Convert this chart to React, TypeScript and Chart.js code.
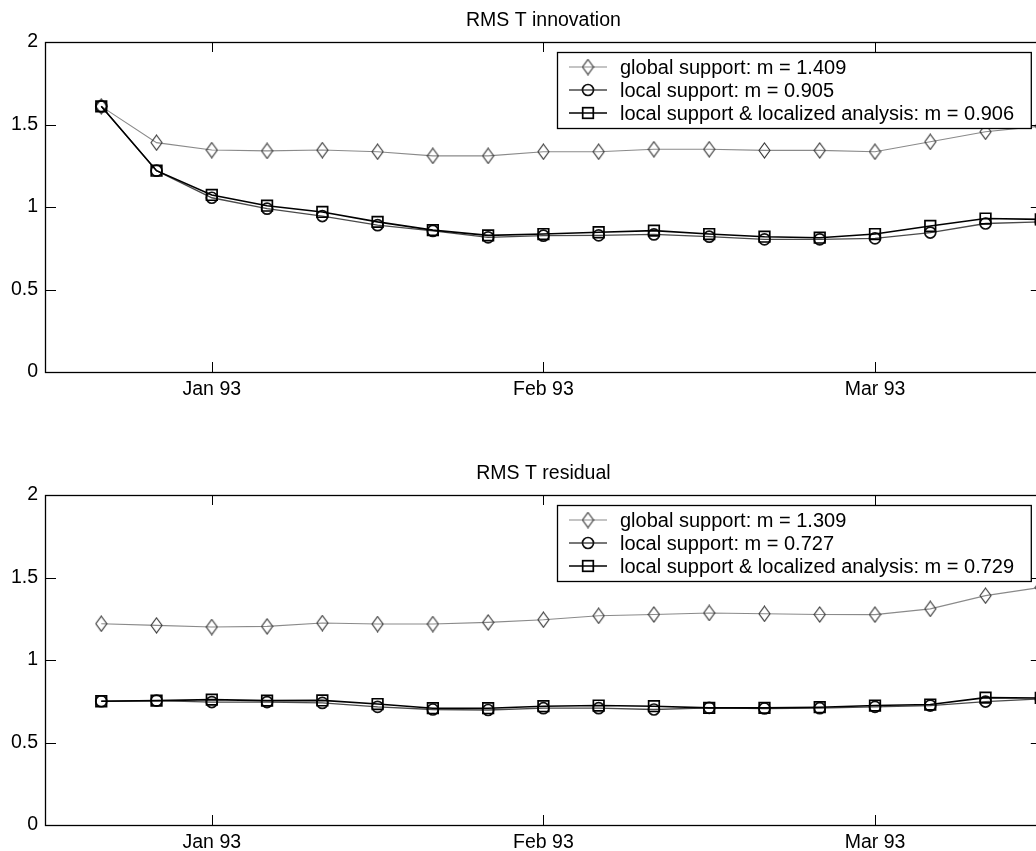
import React, { useEffect, useRef } from 'react';
import { Chart, registerables } from 'chart.js';

Chart.register(...registerables);

// ---------- data ----------
const X_TICK_VALUES = [2, 8, 14];
const X_TICK_LABELS = ['Jan 93', 'Feb 93', 'Mar 93'];
const Y_TICK_VALUES = [0, 0.5, 1, 1.5, 2];

const INNOV_TITLE = 'RMS T innovation';
const INNOV_LABELS = [
  'global support: m = 1.409',
  'local support: m = 0.905',
  'local support & localized analysis: m = 0.906',
];
const innovGlobal = [1.61, 1.39, 1.345, 1.34, 1.345, 1.335, 1.31, 1.31, 1.335, 1.335, 1.35, 1.35, 1.343, 1.343, 1.335, 1.395, 1.456, 1.49];
const innovLocal = [1.61, 1.22, 1.056, 0.99, 0.945, 0.89, 0.855, 0.816, 0.826, 0.828, 0.834, 0.82, 0.804, 0.804, 0.81, 0.845, 0.9, 0.91];
const innovLocalized = [1.61, 1.22, 1.073, 1.008, 0.97, 0.91, 0.86, 0.828, 0.836, 0.847, 0.857, 0.836, 0.82, 0.814, 0.836, 0.885, 0.93, 0.925];

const RESID_TITLE = 'RMS T residual';
const RESID_LABELS = [
  'global support: m = 1.309',
  'local support: m = 0.727',
  'local support & localized analysis: m = 0.729',
];
const residGlobal = [1.22, 1.21, 1.2, 1.204, 1.224, 1.218, 1.218, 1.228, 1.244, 1.268, 1.276, 1.285, 1.28, 1.276, 1.275, 1.31, 1.39, 1.44];
const residLocal = [0.75, 0.754, 0.745, 0.745, 0.74, 0.716, 0.7, 0.697, 0.708, 0.708, 0.7, 0.71, 0.706, 0.708, 0.716, 0.724, 0.748, 0.765];
const residLocalized = [0.75, 0.754, 0.76, 0.754, 0.755, 0.733, 0.708, 0.708, 0.72, 0.724, 0.72, 0.71, 0.71, 0.714, 0.724, 0.73, 0.772, 0.77];

// ---------- styles ----------
const FONT_FAMILY = '"Liberation Sans", Arial, Helvetica, sans-serif';
const TICK_FONT_SIZE = 19.5;
const LEGEND_FONT_SIZE = 20;
const TITLE_FONT_SIZE = 19.5;
const PAD_TOP = 42;
const PLOT_H = 330;
const CANVAS_W = 1050;

const GLOBAL_LINE = '#8a8a8a';
const GLOBAL_MARK = '#333333';
const LOCAL_LINE = '#4a4a4a';
const LOCAL_MARK = '#111111';
const LOCALIZED_LINE = '#000000';

function makeDiamond(): HTMLCanvasElement {
  const c = document.createElement('canvas');
  c.width = 13;
  c.height = 17;
  const g = c.getContext('2d')!;
  g.strokeStyle = GLOBAL_MARK;
  g.lineWidth = 1.1;
  g.beginPath();
  g.moveTo(6.5, 1);
  g.lineTo(12, 8.5);
  g.lineTo(6.5, 16);
  g.lineTo(1, 8.5);
  g.closePath();
  g.stroke();
  return c;
}

function framePlugin(title: string, labels: string[], diamond: HTMLCanvasElement) {
  return {
    id: 'matlabFrame',
    afterDatasetsDraw(chart: any) {
      const ctx: CanvasRenderingContext2D = chart.ctx;
      const { left, right, top, bottom } = chart.chartArea;
      const xs = chart.scales.x;
      const ys = chart.scales.y;
      ctx.save();
      // box
      ctx.strokeStyle = '#000';
      ctx.lineWidth = 1.3;
      ctx.strokeRect(left - 0.5, top + 0.5, right - left, bottom - top);
      // inward ticks
      ctx.lineWidth = 1;
      const TL = 10;
      ctx.beginPath();
      X_TICK_VALUES.forEach((v) => {
        const px = Math.round(xs.getPixelForValue(v)) + 0.5;
        ctx.moveTo(px, bottom);
        ctx.lineTo(px, bottom - TL);
        ctx.moveTo(px, top);
        ctx.lineTo(px, top + TL);
      });
      Y_TICK_VALUES.forEach((v) => {
        const py = Math.round(ys.getPixelForValue(v)) + 0.5;
        ctx.moveTo(left, py);
        ctx.lineTo(left + TL, py);
        ctx.moveTo(right, py);
        ctx.lineTo(right - TL, py);
      });
      ctx.stroke();

      // legend
      ctx.font = `${LEGEND_FONT_SIZE}px ${FONT_FAMILY}`;
      let maxW = 0;
      labels.forEach((l) => {
        maxW = Math.max(maxW, ctx.measureText(l).width);
      });
      const boxW = 63 + maxW + 17;
      const boxRight = right - 10;
      const boxLeft = Math.round(boxRight - boxW);
      const boxTop = top + 10;
      const boxH = 76;
      ctx.fillStyle = '#fff';
      ctx.fillRect(boxLeft, boxTop, boxRight - boxLeft, boxH);
      ctx.strokeStyle = '#000';
      ctx.lineWidth = 1.3;
      ctx.strokeRect(boxLeft + 0.5, boxTop + 0.5, boxRight - boxLeft, boxH);
      chart.data.datasets.forEach((ds: any, k: number) => {
        const y = boxTop + 15 + k * 23;
        const x0 = boxLeft + 12;
        const x1 = boxLeft + 50;
        const cx = boxLeft + 31;
        ctx.strokeStyle = ds.borderColor;
        ctx.lineWidth = ds.borderWidth;
        ctx.beginPath();
        ctx.moveTo(x0, y);
        ctx.lineTo(x1, y);
        ctx.stroke();
        ctx.strokeStyle = ds.pointBorderColor;
        ctx.lineWidth = ds.pointBorderWidth;
        if (k === 0) {
          ctx.drawImage(diamond, cx - diamond.width / 2, y - diamond.height / 2);
        } else if (k === 1) {
          ctx.beginPath();
          ctx.arc(cx, y, ds.pointRadius, 0, Math.PI * 2);
          ctx.stroke();
        } else {
          const s = ds.pointRadius * Math.SQRT1_2;
          ctx.strokeRect(cx - s, y - s, 2 * s, 2 * s);
        }
        ctx.fillStyle = '#000';
        ctx.textBaseline = 'middle';
        ctx.textAlign = 'left';
        ctx.fillText(ds.label, boxLeft + 63, y + 1);
      });
      ctx.restore();
    },
    afterDraw(chart: any) {
      const ctx: CanvasRenderingContext2D = chart.ctx;
      const { left, right, top } = chart.chartArea;
      ctx.save();
      ctx.font = `${TITLE_FONT_SIZE}px ${FONT_FAMILY}`;
      ctx.fillStyle = '#000';
      ctx.textAlign = 'center';
      ctx.textBaseline = 'alphabetic';
      ctx.fillText(title, (left + right) / 2, top - 16.5);
      ctx.restore();
    },
  };
}

function makeConfig(
  title: string,
  labels: string[],
  g: number[],
  l: number[],
  lz: number[],
  canvasH: number,
  diamond: HTMLCanvasElement
): any {
  const pts = (arr: number[]) => arr.map((v, i) => ({ x: i, y: v }));
  const tickFont = { family: FONT_FAMILY, size: TICK_FONT_SIZE };
  return {
    type: 'line',
    data: {
      datasets: [
        {
          label: labels[0],
          data: pts(g),
          borderColor: GLOBAL_LINE,
          borderWidth: 1.1,
          pointStyle: diamond,
          pointRadius: 7,
          pointBorderColor: GLOBAL_MARK,
          pointBorderWidth: 1.1,
          pointBackgroundColor: 'rgba(0,0,0,0)',
          backgroundColor: 'rgba(0,0,0,0)',
          fill: false,
          tension: 0,
          order: 3,
        },
        {
          label: labels[1],
          data: pts(l),
          borderColor: LOCAL_LINE,
          borderWidth: 1.3,
          pointStyle: 'circle',
          pointRadius: 5.5,
          pointBorderColor: LOCAL_MARK,
          pointBorderWidth: 1.7,
          pointBackgroundColor: 'rgba(0,0,0,0)',
          backgroundColor: 'rgba(0,0,0,0)',
          fill: false,
          tension: 0,
          order: 2,
        },
        {
          label: labels[2],
          data: pts(lz),
          borderColor: LOCALIZED_LINE,
          borderWidth: 1.6,
          pointStyle: 'rect',
          pointRadius: 7.5,
          pointBorderColor: '#000',
          pointBorderWidth: 1.7,
          pointBackgroundColor: 'rgba(0,0,0,0)',
          backgroundColor: 'rgba(0,0,0,0)',
          fill: false,
          tension: 0,
          order: 1,
        },
      ],
    },
    options: {
      animation: false,
      responsive: false,
      devicePixelRatio: 1,
      events: [],
      layout: { padding: { top: PAD_TOP, left: 0, right: 5, bottom: 0 } },
      plugins: {
        legend: { display: false },
        title: { display: false },
        tooltip: { enabled: false },
      },
      scales: {
        x: {
          type: 'linear',
          min: -1,
          max: 17,
          afterBuildTicks: (s: any) => {
            s.ticks = X_TICK_VALUES.map((v) => ({ value: v }));
          },
          afterFit: (s: any) => {
            s.height = canvasH - PAD_TOP - PLOT_H;
          },
          ticks: {
            autoSkip: false,
            maxRotation: 0,
            minRotation: 0,
            padding: 6,
            color: '#000',
            font: tickFont,
            callback: (v: number) => {
              const i = X_TICK_VALUES.indexOf(v);
              return i >= 0 ? X_TICK_LABELS[i] : '';
            },
          },
          grid: { display: false, drawTicks: false },
          border: { display: false },
        },
        y: {
          type: 'linear',
          min: 0,
          max: 2,
          afterBuildTicks: (s: any) => {
            s.ticks = Y_TICK_VALUES.map((v) => ({ value: v }));
          },
          afterFit: (s: any) => {
            s.width = 46;
          },
          ticks: {
            padding: 8,
            color: '#000',
            font: tickFont,
            callback: (v: number) => String(v),
          },
          grid: { display: false, drawTicks: false },
          border: { display: false },
        },
      },
    },
    plugins: [framePlugin(title, labels, diamond)],
  };
}

const TOP_H = 420;
const BOTTOM_TOP = 453;
const BOTTOM_H = 398;

export default function App() {
  const topRef = useRef<HTMLCanvasElement>(null);
  const botRef = useRef<HTMLCanvasElement>(null);

  useEffect(() => {
    const diamond = makeDiamond();
    const c1 = new Chart(
      topRef.current!,
      makeConfig(INNOV_TITLE, INNOV_LABELS, innovGlobal, innovLocal, innovLocalized, TOP_H, diamond)
    );
    const c2 = new Chart(
      botRef.current!,
      makeConfig(RESID_TITLE, RESID_LABELS, residGlobal, residLocal, residLocalized, BOTTOM_H, diamond)
    );
    return () => {
      c1.destroy();
      c2.destroy();
    };
  }, []);

  return (
    <div
      style={{
        position: 'absolute',
        left: 0,
        top: 0,
        width: 1036,
        height: 851,
        overflow: 'hidden',
        background: '#fff',
      }}
    >
      <canvas
        ref={topRef}
        width={CANVAS_W}
        height={TOP_H}
        style={{ position: 'absolute', left: 0, top: 0, width: CANVAS_W, height: TOP_H }}
      />
      <canvas
        ref={botRef}
        width={CANVAS_W}
        height={BOTTOM_H}
        style={{ position: 'absolute', left: 0, top: BOTTOM_TOP, width: CANVAS_W, height: BOTTOM_H }}
      />
    </div>
  );
}
